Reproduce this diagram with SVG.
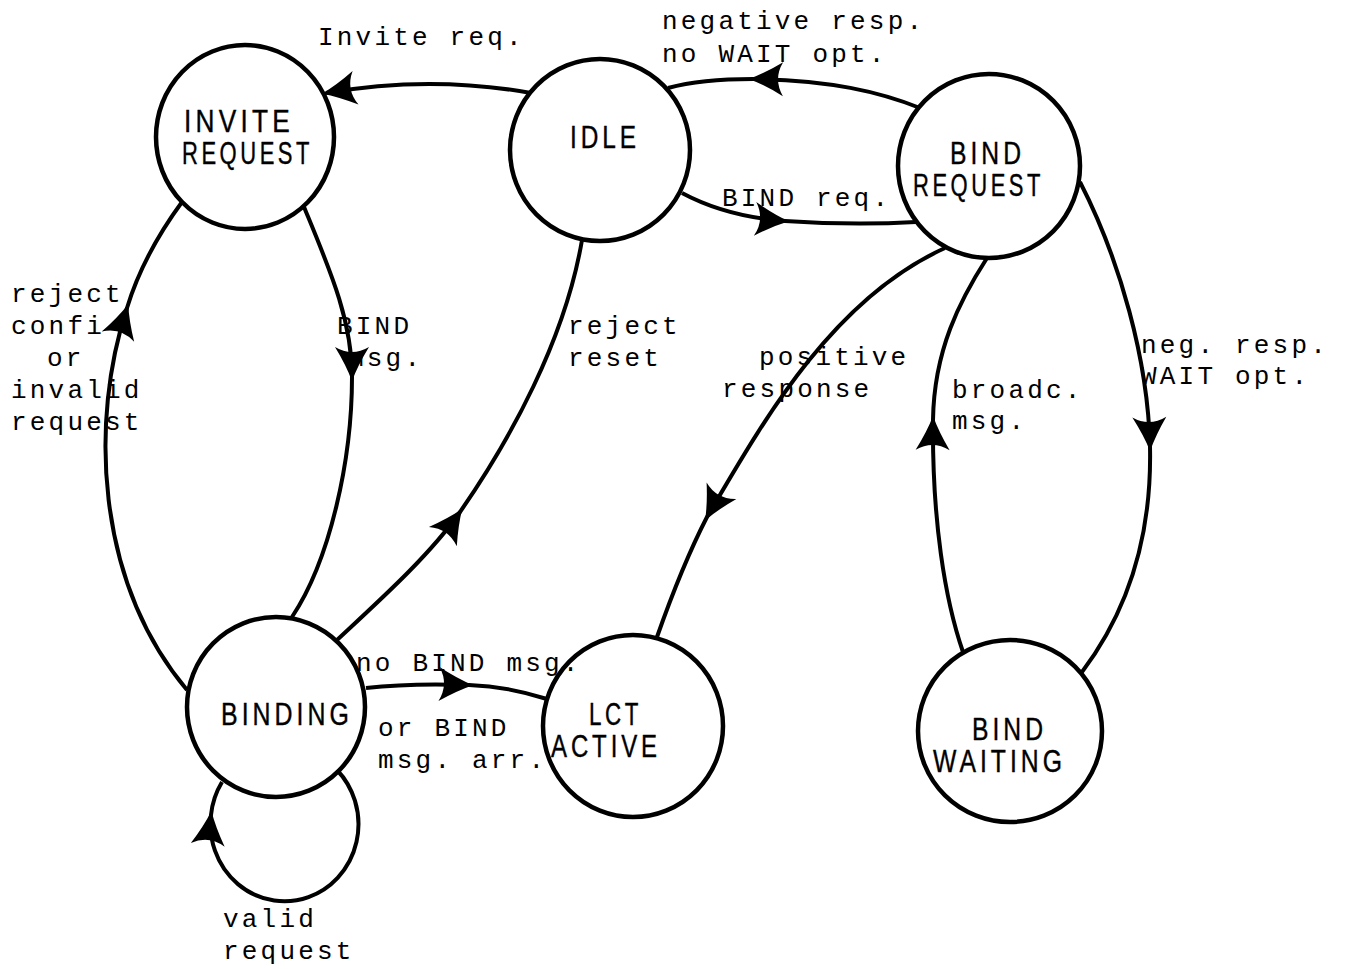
<svg xmlns="http://www.w3.org/2000/svg" width="1351" height="969" viewBox="0 0 1351 969">
<style>
.bg{fill:#fff}
.node ellipse{fill:#fff;stroke:#000;stroke-width:4.5}
.node text{font-family:"Liberation Sans","DejaVu Sans",Arial,sans-serif;font-size:31px;letter-spacing:5px;fill:#000;stroke:#000;stroke-width:0.4}
.lbl{font-family:"Liberation Mono","Courier New",monospace;font-size:26px;letter-spacing:3.2px;fill:#000}
.edge{fill:none;stroke:#000;stroke-width:4;marker-mid:url(#ah)}
.edge.end{marker-mid:none;marker-end:url(#ah)}
</style>
<defs>
<marker id="ah" markerUnits="userSpaceOnUse" markerWidth="40" markerHeight="40" refX="0" refY="0" orient="auto" overflow="visible">
<path d="M4,0 Q-12,-6 -30,-17 Q-20,0 -30,17 Q-12,6 4,0 Z" fill="#000"/>
</marker>
</defs>
<rect class="bg" width="1351" height="969"/>
<g id="n-invite" class="node">
<ellipse cx="245" cy="137" rx="89" ry="92"/>
<text x="184" y="132" textLength="110" lengthAdjust="spacingAndGlyphs">INVITE</text>
<text x="182" y="164" textLength="131" lengthAdjust="spacingAndGlyphs">REQUEST</text>
</g>
<g id="n-idle" class="node">
<ellipse cx="600" cy="150" rx="90" ry="91"/>
<text x="570" y="148" textLength="70" lengthAdjust="spacingAndGlyphs">IDLE</text>
</g>
<g id="n-bindreq" class="node">
<ellipse cx="989" cy="166" rx="91" ry="92"/>
<text x="950" y="164" textLength="75" lengthAdjust="spacingAndGlyphs">BIND</text>
<text x="913" y="196" textLength="131" lengthAdjust="spacingAndGlyphs">REQUEST</text>
</g>
<g id="n-binding" class="node">
<ellipse cx="276" cy="707" rx="89" ry="90"/>
<text x="221" y="725" textLength="132" lengthAdjust="spacingAndGlyphs">BINDING</text>
</g>
<g id="n-lct" class="node">
<ellipse cx="633" cy="726" rx="90" ry="91"/>
<text x="589" y="725" textLength="53" lengthAdjust="spacingAndGlyphs">LCT</text>
<text x="551" y="757" textLength="110" lengthAdjust="spacingAndGlyphs">ACTIVE</text>
</g>
<g id="n-bindwait" class="node">
<ellipse cx="1010" cy="731" rx="92" ry="91"/>
<text x="972" y="740" textLength="75" lengthAdjust="spacingAndGlyphs">BIND</text>
<text x="933" y="772" textLength="133" lengthAdjust="spacingAndGlyphs">WAITING</text>
</g>
<g id="connectors">
<path id="e-idle-invite" class="edge end" d="M531,93 C470,82 400,80 326,93"/>
<path id="e-bindreq-idle" class="edge" d="M920,108 C880,92 830,80 753,79 C720,79 690,82 668,88"/>
<path id="e-idle-bindreq" class="edge" d="M682,193 C710,208 745,218 785,221 C830,224 880,224 916,222"/>
<path id="e-invite-binding" class="edge" d="M304,207 C330,270 352,320 352,377 C352,460 330,560 292,617"/>
<path id="e-binding-invite" class="edge" d="M187,690 C95,580 90,420 127,308 C140,265 160,232 182,202"/>
<path id="e-binding-idle" class="edge" d="M337,640 C380,600 430,555 460,512 C510,440 565,340 582,240"/>
<path id="e-bindreq-lct" class="edge" d="M945,248 C830,300 760,427 707,517 C690,550 670,600 657,637"/>
<path id="e-bindwait-bindreq" class="edge" d="M963,652 C945,600 932,520 933,420 C934,350 960,300 987,258"/>
<path id="e-bindreq-bindwait" class="edge" d="M1080,182 C1120,260 1148,360 1150,447 C1152,540 1125,615 1082,672"/>
<path id="e-binding-lct" class="edge" d="M366,688 C400,684 440,684 469,685 C500,686 525,692 547,699"/>
<path id="e-binding-self" class="edge" d="M337,770 A74,77 0 1 1 211,815 A74,77 0 0 1 222,782"/>
</g>
<g id="labels">
<text class="lbl" x="318" y="45">Invite req.</text>
<text class="lbl" x="662" y="29">negative resp.</text>
<text class="lbl" x="662" y="62">no WAIT opt.</text>
<text class="lbl" x="722" y="206">BIND req.</text>
<text class="lbl" x="11" y="302">reject</text>
<text class="lbl" x="11" y="334">confi</text>
<text class="lbl" x="47" y="366">or</text>
<text class="lbl" x="11" y="398">invalid</text>
<text class="lbl" x="11" y="430">request</text>
<text class="lbl" x="337" y="334">BIND</text>
<text class="lbl" x="348" y="366">msg.</text>
<text class="lbl" x="568" y="334">reject</text>
<text class="lbl" x="568" y="366">reset</text>
<text class="lbl" x="759" y="365">positive</text>
<text class="lbl" x="722" y="397">response</text>
<text class="lbl" x="952" y="398">broadc.</text>
<text class="lbl" x="952" y="429">msg.</text>
<text class="lbl" x="1141" y="353">neg. resp.</text>
<text class="lbl" x="1141" y="384">WAIT opt.</text>
<text class="lbl" x="356" y="671">no BIND msg.</text>
<text class="lbl" x="378" y="736">or BIND</text>
<text class="lbl" x="378" y="768">msg. arr.</text>
<text class="lbl" x="223" y="927">valid</text>
<text class="lbl" x="223" y="959">request</text>
</g>
</svg>
